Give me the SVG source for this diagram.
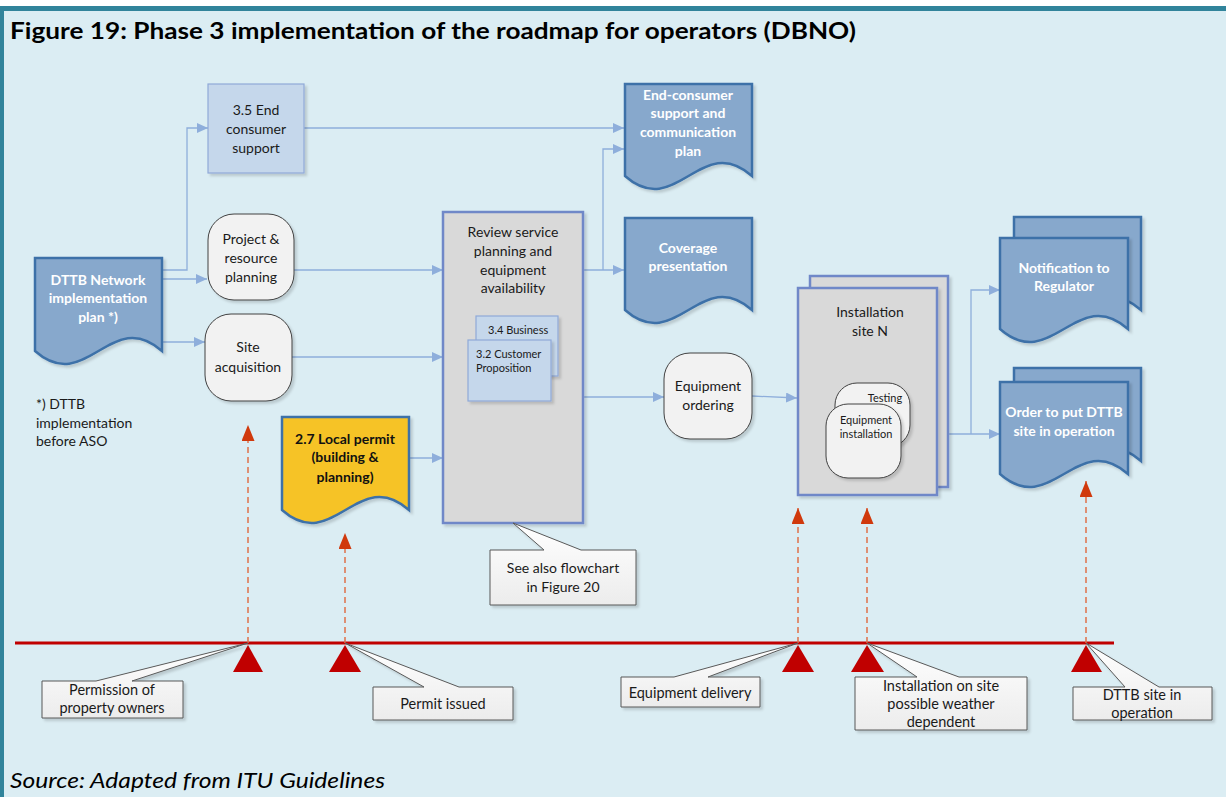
<svg xmlns="http://www.w3.org/2000/svg" width="1226" height="797" viewBox="0 0 1226 797">
<defs>
<style>
.t{font-family:Lato,"Open Sans","Liberation Sans",sans-serif;font-size:14px;fill:#1a1a1a;text-anchor:middle}
.tw{font-family:Lato,"Open Sans","Liberation Sans",sans-serif;font-size:14px;font-weight:bold;fill:#ffffff;text-anchor:middle}
.tb{font-family:Lato,"Open Sans","Liberation Sans",sans-serif;font-size:14px;font-weight:bold;fill:#111;text-anchor:middle}
.ts{font-family:Lato,"Open Sans","Liberation Sans",sans-serif;font-size:11px;fill:#1a1a1a}
.tl{font-family:Lato,"Open Sans","Liberation Sans",sans-serif;font-size:14.5px;fill:#1a1a1a;text-anchor:middle}
.doc{fill:#87a8cc;stroke:#3e71a8;stroke-width:2.5;filter:url(#sh)}
.docy{fill:#f6c328;stroke:#3e71a8;stroke-width:2.5;filter:url(#sh)}
.sub{fill:#c5d7eb;stroke:#8fa9d8;stroke-width:1.2;filter:url(#sh)}
.rr{fill:#f2f2f2;stroke:#404040;stroke-width:1;filter:url(#sh)}
.grp{fill:#d9d9d9;stroke:#7088c8;stroke-width:2.5;filter:url(#sh)}
.con{fill:none;stroke:#8eaedb;stroke-width:1.3}
.conA{fill:none;stroke:#8eaedb;stroke-width:1.3;marker-end:url(#ah)}
.ms{fill:none;stroke:#e0704a;stroke-width:1.5;stroke-dasharray:6,4;marker-end:url(#rh)}
.call{fill:url(#cg);stroke:#595959;stroke-width:1;filter:url(#sh)}
.tri{fill:#c00000}
</style>
<filter id="sh" x="-10%" y="-10%" width="130%" height="130%">
<feDropShadow dx="2.5" dy="2.5" stdDeviation="1" flood-color="#000" flood-opacity="0.15"/>
</filter>
<linearGradient id="cg" x1="0" y1="0" x2="0" y2="1">
<stop offset="0" stop-color="#ffffff"/>
<stop offset="1" stop-color="#ececec"/>
</linearGradient>
<marker id="ah" markerUnits="userSpaceOnUse" markerWidth="11" markerHeight="10" refX="11" refY="5" orient="auto">
<path d="M0,0 L11,5 L0,10 Z" fill="#8eaedb"/>
</marker>
<marker id="rh" markerUnits="userSpaceOnUse" markerWidth="16" markerHeight="13" refX="16" refY="6.5" orient="auto">
<path d="M0,0 L16,6.5 L0,13 Z" fill="#d0390c"/>
</marker>
</defs>

<rect x="0" y="0" width="1226" height="797" fill="#dbedf3"/>
<rect x="0" y="0" width="1226" height="6" fill="#ffffff"/>
<rect x="0" y="6" width="1226" height="5" fill="#31849b"/>
<rect x="0" y="6" width="4" height="791" fill="#31849b"/>

<text x="10" y="39" font-family="Lato,'Open Sans','Liberation Sans',sans-serif" font-size="23" font-weight="bold" fill="#000" textLength="846" lengthAdjust="spacingAndGlyphs">Figure 19: Phase 3 implementation of the roadmap for operators (DBNO)</text>

<g id="connectors">
<path class="conA" d="M163,270 H187 V128 H208"/>
<path class="conA" d="M163,279 H207"/>
<path class="conA" d="M163,342 H205"/>
<path class="conA" d="M304,128 H624"/>
<path class="conA" d="M294,270 H443"/>
<path class="conA" d="M292,357 H443"/>
<path class="conA" d="M409,458 H443"/>
<path class="conA" d="M583,270 H624"/>
<path class="conA" d="M603,270 V149 H624"/>
<path class="conA" d="M583,397 H664"/>
<path class="conA" d="M752,396 L797,398"/>
<path class="conA" d="M938,434 H1000"/>
<path class="conA" d="M971,434 V290 H1000"/>
</g>

<g id="n-endsupport">
<rect class="sub" x="208" y="84" width="96" height="89"/>
<text class="t" x="256" y="115">3.5 End</text>
<text class="t" x="256" y="134">consumer</text>
<text class="t" x="256" y="153">support</text>
</g>

<g id="n-dttb">
<path class="doc" d="M35,258 H162 V351 C111,306 86,396 35,351 Z"/>
<text class="tw" x="98" y="285">DTTB Network</text>
<text class="tw" x="98" y="303">implementation</text>
<text class="tw" x="98" y="322">plan *)</text>
</g>

<g id="n-project">
<rect class="rr" x="208" y="214" width="86" height="86" rx="26"/>
<text class="t" x="251" y="244">Project &amp;</text>
<text class="t" x="251" y="263">resource</text>
<text class="t" x="251" y="282">planning</text>
</g>

<g id="n-site">
<rect class="rr" x="205" y="314" width="87" height="87" rx="26"/>
<text class="t" x="248" y="352">Site</text>
<text class="t" x="248" y="372">acquisition</text>
</g>

<g id="note">
<text class="t" x="36" y="409" style="text-anchor:start">*) DTTB</text>
<text class="t" x="36" y="428" style="text-anchor:start">implementation</text>
<text class="t" x="36" y="446" style="text-anchor:start">before ASO</text>
</g>

<g id="n-permit">
<path class="docy" d="M282,417 H409 V510 C358,465 333,555 282,510 Z"/>
<text class="tb" x="345" y="444">2.7 Local permit</text>
<text class="tb" x="345" y="462">(building &amp;</text>
<text class="tb" x="345" y="482">planning)</text>
</g>

<g id="n-review">
<rect class="grp" x="443" y="212" width="140" height="311"/>
<text class="t" x="513" y="237">Review service</text>
<text class="t" x="513" y="256">planning and</text>
<text class="t" x="513" y="275">equipment</text>
<text class="t" x="513" y="293">availability</text>
<rect class="sub" x="476" y="316" width="82" height="60"/>
<text class="ts" x="488" y="334">3.4 Business</text>
<rect class="sub" x="468" y="340" width="83" height="61"/>
<text class="ts" x="476" y="358">3.2 Customer</text>
<text class="ts" x="476" y="372">Proposition</text>
</g>

<g id="c-seealso">
<path class="call" d="M490,550 H544 L513,523 L581,550 H636 V605 H490 Z"/>
<text class="t" x="563" y="573">See also flowchart</text>
<text class="t" x="563" y="592">in Figure 20</text>
</g>

<g id="n-eqorder">
<rect class="rr" x="664" y="353" width="88" height="86" rx="26"/>
<text class="t" x="708" y="391">Equipment</text>
<text class="t" x="708" y="410">ordering</text>
</g>

<g id="n-endcomm">
<path class="doc" d="M625,84 H752 V176 C701,131 676,221 625,176 Z"/>
<text class="tw" x="688" y="100">End-consumer</text>
<text class="tw" x="688" y="118">support and</text>
<text class="tw" x="688" y="137">communication</text>
<text class="tw" x="688" y="156">plan</text>
</g>

<g id="n-coverage">
<path class="doc" d="M625,218 H752 V310 C701,265 676,355 625,310 Z"/>
<text class="tw" x="688" y="253">Coverage</text>
<text class="tw" x="688" y="271">presentation</text>
</g>

<g id="n-install">
<rect class="grp" x="810" y="276" width="138" height="211"/>
<rect class="grp" x="798" y="288" width="139" height="207"/>
<text class="t" x="870" y="317">Installation</text>
<text class="t" x="870" y="336">site N</text>
<rect class="rr" x="835" y="383" width="75" height="64" rx="22"/>
<text class="ts" x="885" y="402" style="text-anchor:middle">Testing</text>
<rect class="rr" x="826" y="404" width="75" height="74" rx="22"/>
<text class="ts" x="866" y="424" style="text-anchor:middle">Equipment</text>
<text class="ts" x="866" y="438" style="text-anchor:middle">installation</text>
</g>

<g id="n-notif">
<path class="doc" d="M1014,217 H1141 V310 C1090,265 1065,355 1014,310 Z"/>
<path class="doc" d="M1000,238 H1128 V329 C1077,284 1051,374 1000,329 Z"/>
<text class="tw" x="1064" y="273">Notification to</text>
<text class="tw" x="1064" y="291">Regulator</text>
</g>

<g id="n-order">
<path class="doc" d="M1014,368 H1141 V461 C1090,416 1065,506 1014,461 Z"/>
<path class="doc" d="M1000,382 H1128 V474 C1077,429 1051,519 1000,474 Z"/>
<text class="tw" x="1064" y="417">Order to put DTTB</text>
<text class="tw" x="1064" y="436">site in operation</text>
</g>

<g id="timeline">
<line x1="15" y1="643" x2="1114" y2="643" stroke="#c00000" stroke-width="3"/>
<path class="ms" d="M248,643 V425"/>
<path class="ms" d="M345,643 V533"/>
<path class="ms" d="M798,643 V508"/>
<path class="ms" d="M867,643 V508"/>
<path class="ms" d="M1086,643 V481"/>
<polygon class="tri" points="248,645 263,672 233,672"/>
<polygon class="tri" points="345,645 361,672 329,672"/>
<polygon class="tri" points="798,645 814,672 782,672"/>
<polygon class="tri" points="867,645 884,672 851,672"/>
<polygon class="tri" points="1086,645 1102,672 1071,672"/>
</g>

<g id="m-permission">
<path class="call" d="M42,681 H96 L248,643 L132,681 H183 V718 H42 Z"/>
<text class="tl" x="112" y="695">Permission of</text>
<text class="tl" x="112" y="713">property owners</text>
</g>
<g id="m-permit">
<path class="call" d="M373,687 H424 L345,643 L459,687 H513 V720 H373 Z"/>
<text class="tl" x="443" y="709">Permit issued</text>
</g>
<g id="m-delivery">
<path class="call" d="M621,677 H674 L798,643 L708,677 H760 V707 H621 Z"/>
<text class="tl" x="690" y="698">Equipment delivery</text>
</g>
<g id="m-installation">
<path class="call" d="M855,677 H917 L867,643 L959,677 H1027 V730 H855 Z"/>
<text class="tl" x="941" y="691">Installation on site</text>
<text class="tl" x="941" y="709">possible weather</text>
<text class="tl" x="941" y="727">dependent</text>
</g>
<g id="m-operation">
<path class="call" d="M1073,687 H1125 L1086,643 L1159,687 H1212 V720 H1073 Z"/>
<text class="tl" x="1142" y="700">DTTB site in</text>
<text class="tl" x="1142" y="718">operation</text>
</g>

<text x="10" y="788" font-family="Lato,'Open Sans','Liberation Sans',sans-serif" font-size="21" font-style="italic" fill="#000" textLength="375" lengthAdjust="spacingAndGlyphs">Source: Adapted from ITU Guidelines</text>
</svg>
